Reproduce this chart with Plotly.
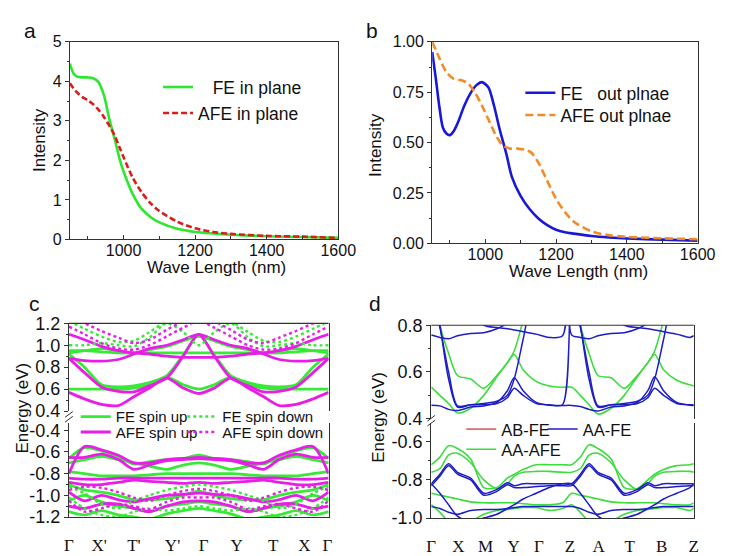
import plotly.graph_objects as go

W, H = 736, 556

# ---------------- panel a : in-plane absorption ----------------
WL_A = [850, 860, 870, 885, 900, 915, 930, 945, 960, 975, 990, 1000, 1025, 1050,
        1075, 1100, 1150, 1200, 1250, 1300, 1400, 1500, 1600]
FE_IN_PLANE = [4.45, 4.2, 4.12, 4.1, 4.1, 4.08, 3.98, 3.65, 3.05, 2.55, 2.0, 1.72, 1.16,
               0.78, 0.57, 0.43, 0.27, 0.19, 0.15, 0.12, 0.08, 0.06, 0.04]
AFE_IN_PLANE = [3.95, 3.82, 3.72, 3.6, 3.52, 3.42, 3.28, 3.1, 2.88, 2.63, 2.3, 2.08, 1.57,
                1.2, 0.92, 0.72, 0.45, 0.28, 0.19, 0.14, 0.09, 0.07, 0.04]

# ---------------- panel b : out-of-plane absorption ----------------
WL_B_FE = [850, 860, 870, 880, 890, 900, 910, 925, 940, 960, 975, 990, 1000, 1010, 1025,
           1040, 1060, 1075, 1100, 1125, 1150, 1175, 1200, 1225, 1250, 1300, 1350, 1400,
           1500, 1600]
FE_OUT_PLANE = [0.95, 0.82, 0.68, 0.575, 0.545, 0.537, 0.555, 0.61, 0.68, 0.75, 0.785, 0.80,
                0.79, 0.77, 0.68, 0.57, 0.44, 0.33, 0.234, 0.17, 0.123, 0.09, 0.067, 0.055,
                0.048, 0.036, 0.029, 0.024, 0.018, 0.013]
WL_B_AFE = [850, 870, 890, 910, 930, 950, 970, 990, 1010, 1030, 1050, 1070, 1090, 1110,
            1130, 1150, 1175, 1200, 1225, 1250, 1300, 1350, 1400, 1500, 1600]
AFE_OUT_PLANE = [1.0, 0.92, 0.85, 0.817, 0.81, 0.795, 0.75, 0.685, 0.61, 0.535, 0.485, 0.47,
                 0.47, 0.465, 0.45, 0.40, 0.31, 0.22, 0.155, 0.107, 0.059, 0.04, 0.032,
                 0.025, 0.02]

# ---------------- panel c : band structure FE / AFE ----------------
K_C = [0, 0.06, 0.125, 0.19, 0.25, 0.31, 0.376, 0.44, 0.5, 0.56, 0.624, 0.69, 0.75, 0.81,
       0.875, 0.94, 1.0]
C_TICK_POS = [0, 0.116, 0.25, 0.399, 0.519, 0.646, 0.787, 0.907, 0.996]
C_TICK_LABELS = ["Γ", "X'", "T'", "Y'", "Γ", "Y", "T", "X", "Γ"]

C_FE_UP_1 = [0.60, 0.60, 0.60, 0.60, 0.61, 0.64, 0.71, 0.64, 0.60, 0.64, 0.71, 0.64, 0.61, 0.60, 0.60, 0.60, 0.60]
C_FE_UP_2 = [0.92, 0.80, 0.64, 0.62, 0.63, 0.66, 0.72, 0.91, 1.09, 0.91, 0.72, 0.66, 0.63, 0.62, 0.64, 0.80, 0.92]
C_FE_UP_3 = [0.95, 0.95, 0.94, 0.93, 0.93, 0.93, 0.93, 0.93, 0.93, 0.93, 0.93, 0.93, 0.93, 0.93, 0.94, 0.95, 0.95]
C_FE_UP_4 = [0.93, 0.95, 0.97, 0.95, 0.93, 0.96, 0.99, 1.04, 1.08, 1.04, 0.99, 0.96, 0.93, 0.95, 0.97, 0.95, 0.93]
C_AFE_UP_1 = [0.57, 0.51, 0.46, 0.45, 0.53, 0.61, 0.70, 0.61, 0.56, 0.61, 0.70, 0.61, 0.53, 0.45, 0.46, 0.51, 0.57]
C_AFE_UP_2 = [0.88, 0.75, 0.62, 0.58, 0.575, 0.63, 0.70, 0.90, 1.10, 0.90, 0.70, 0.63, 0.575, 0.58, 0.62, 0.75, 0.88]
C_AFE_UP_3 = [1.10, 1.05, 0.99, 0.95, 0.93, 0.92, 0.90, 0.89, 0.89, 0.89, 0.90, 0.92, 0.93, 0.95, 0.99, 1.05, 1.10]
C_AFE_UP_4 = [0.88, 0.86, 0.855, 0.87, 0.92, 0.97, 1.00, 1.05, 1.10, 1.05, 1.00, 0.97, 0.92, 0.87, 0.855, 0.86, 0.88]
C_FE_DN_1 = [1.00, 1.00, 1.02, 1.00, 0.99, 1.07, 1.20, 1.12, 1.00, 1.12, 1.20, 1.07, 0.99, 1.00, 1.02, 1.00, 1.00]
C_FE_DN_2 = [1.22, 1.15, 1.08, 1.03, 1.04, 1.12, 1.22, 1.28, 1.30, 1.28, 1.22, 1.12, 1.04, 1.03, 1.08, 1.15, 1.22]
C_AFE_DN_1 = [1.17, 1.10, 1.02, 0.97, 0.96, 1.00, 1.08, 1.16, 1.22, 1.16, 1.08, 1.00, 0.96, 0.97, 1.02, 1.10, 1.17]
C_AFE_DN_2 = [1.25, 1.20, 1.13, 1.07, 1.02, 1.05, 1.14, 1.22, 1.28, 1.22, 1.14, 1.05, 1.02, 1.07, 1.13, 1.20, 1.25]

C_FE_UP_L1 = [-0.66, -0.56, -0.59, -0.64, -0.71, -0.69, -0.67, -0.66, -0.63, -0.66, -0.67, -0.69, -0.71, -0.64, -0.59, -0.56, -0.66]
C_FE_UP_L2 = [-0.70, -0.67, -0.64, -0.67, -0.70, -0.73, -0.76, -0.72, -0.70, -0.72, -0.76, -0.73, -0.70, -0.67, -0.64, -0.67, -0.70]
C_FE_UP_L3 = [-0.78, -0.80, -0.82, -0.82, -0.82, -0.81, -0.80, -0.80, -0.80, -0.80, -0.80, -0.81, -0.82, -0.82, -0.82, -0.80, -0.78]
C_FE_UP_L4 = [-0.90, -0.95, -0.97, -1.00, -1.04, -1.04, -1.03, -1.00, -0.96, -1.00, -1.03, -1.04, -1.04, -1.00, -0.97, -0.95, -0.90]
C_FE_UP_L5 = [-1.05, -1.00, -1.06, -1.10, -1.12, -1.15, -1.10, -1.08, -1.06, -1.08, -1.10, -1.15, -1.12, -1.10, -1.06, -1.00, -1.05]
C_FE_UP_L6 = [-1.15, -1.18, -1.14, -1.18, -1.20, -1.22, -1.17, -1.14, -1.12, -1.14, -1.17, -1.22, -1.20, -1.18, -1.14, -1.18, -1.15]
C_AFE_UP_L1 = [-0.80, -0.55, -0.58, -0.63, -0.70, -0.70, -0.67, -0.66, -0.65, -0.66, -0.67, -0.70, -0.70, -0.63, -0.58, -0.55, -0.80]
C_AFE_UP_L2 = [-0.65, -0.65, -0.62, -0.67, -0.76, -0.72, -0.68, -0.67, -0.66, -0.67, -0.68, -0.72, -0.76, -0.67, -0.62, -0.65, -0.65]
C_AFE_UP_L3 = [-0.84, -0.85, -0.85, -0.84, -0.84, -0.84, -0.84, -0.84, -0.84, -0.84, -0.84, -0.84, -0.84, -0.84, -0.85, -0.85, -0.84]
C_AFE_UP_L4 = [-0.88, -0.90, -0.90, -0.88, -0.86, -0.87, -0.88, -0.89, -0.88, -0.89, -0.88, -0.87, -0.86, -0.88, -0.90, -0.90, -0.88]
C_AFE_UP_L5 = [-0.97, -1.05, -1.00, -1.04, -1.06, -1.03, -1.00, -0.99, -0.98, -0.99, -1.00, -1.03, -1.06, -1.04, -1.00, -1.05, -0.97]
C_AFE_UP_L6 = [-1.10, -1.12, -1.08, -1.08, -1.12, -1.15, -1.10, -1.06, -1.05, -1.06, -1.10, -1.15, -1.12, -1.08, -1.08, -1.12, -1.10]
C_FE_DN_L1 = [-0.92, -0.98, -1.08, -1.12, -1.05, -1.00, -0.95, -0.92, -0.90, -0.92, -0.95, -1.00, -1.05, -1.12, -1.08, -0.98, -0.92]
C_FE_DN_L2 = [-1.02, -1.12, -1.18, -1.20, -1.15, -1.12, -1.14, -1.12, -1.10, -1.12, -1.14, -1.12, -1.15, -1.20, -1.18, -1.12, -1.02]
C_AFE_DN_L1 = [-0.95, -0.92, -0.93, -0.97, -1.02, -1.05, -1.00, -0.96, -0.94, -0.96, -1.00, -1.05, -1.02, -0.97, -0.93, -0.92, -0.95]
C_AFE_DN_L2 = [-1.05, -1.15, -1.12, -1.08, -1.10, -1.13, -1.06, -1.02, -1.02, -1.02, -1.06, -1.13, -1.10, -1.08, -1.12, -1.15, -1.05]

# ---------------- panel d : band structure AA / AB stacking ----------------
K_D = [0, 0.033, 0.066, 0.10, 0.15, 0.20, 0.25, 0.29, 0.316, 0.35, 0.40, 0.45, 0.50,
       0.535, 0.568, 0.601, 0.635, 0.685, 0.735, 0.785, 0.825, 0.851, 0.885, 0.935, 0.985, 1.0]
D_TICK_POS = [0, 0.103, 0.207, 0.314, 0.41, 0.528, 0.638, 0.756, 0.878, 1.0]
D_TICK_LABELS = ["Γ", "X", "M", "Y", "Γ", "Z", "A", "T", "B", "Z"]

D_AFE_1 = [0.535, 0.50, 0.465, 0.425, 0.445, 0.50, 0.58, 0.64, 0.675, 0.61, 0.56, 0.54, 0.535,
           0.535, 0.50, 0.46, 0.42, 0.445, 0.50, 0.58, 0.64, 0.675, 0.61, 0.565, 0.545, 0.54]
D_AFE_2 = [1.0, 0.80, 0.68, 0.585, 0.57, 0.53, 0.585, 0.64, 0.69, 0.82, 1.0, 1.1, 1.1,
           1.0, 0.80, 0.68, 0.585, 0.575, 0.53, 0.585, 0.64, 0.69, 0.82, 1.0, 1.1, 1.1]
D_AFE_L1 = [-0.72, -0.68, -0.62, -0.635, -0.69, -0.84, -0.84, -0.79, -0.77, -0.745, -0.72, -0.72, -0.72,
            -0.72, -0.68, -0.615, -0.635, -0.69, -0.84, -0.845, -0.80, -0.77, -0.745, -0.725, -0.72, -0.715]
D_AFE_L2 = [-0.76, -0.74, -0.67, -0.66, -0.71, -0.80, -0.845, -0.82, -0.78, -0.76, -0.755, -0.755, -0.76,
            -0.76, -0.74, -0.67, -0.66, -0.71, -0.80, -0.85, -0.82, -0.78, -0.76, -0.755, -0.755, -0.76]
D_AFE_L3 = [-0.87, -0.88, -0.89, -0.90, -0.915, -0.92, -0.92, -0.92, -0.92, -0.925, -0.93, -0.93, -0.92,
            -0.87, -0.88, -0.89, -0.90, -0.915, -0.92, -0.92, -0.92, -0.92, -0.925, -0.93, -0.93, -0.92]
D_AFE_L4 = [-0.93, -0.97, -1.02, -1.05, -1.02, -0.98, -0.96, -0.955, -0.95, -0.945, -0.945, -0.96, -0.95,
            -0.93, -0.97, -1.02, -1.05, -1.02, -0.98, -0.96, -0.955, -0.95, -0.945, -0.945, -0.96, -0.95]

D_FE_1 = [0.458, 0.455, 0.44, 0.435, 0.45, 0.455, 0.47, 0.52, 0.575, 0.52, 0.47, 0.458, 0.457,
          0.457, 0.452, 0.44, 0.433, 0.45, 0.455, 0.47, 0.52, 0.58, 0.52, 0.47, 0.458, 0.457]
D_FE_2 = [1.0, 0.80, 0.57, 0.45, 0.46, 0.465, 0.475, 0.50, 0.57, 0.74, 1.0, 1.1, 1.1,
          1.0, 0.80, 0.57, 0.45, 0.46, 0.465, 0.475, 0.50, 0.57, 0.74, 1.0, 1.1, 1.1]
D_FE_3 = [0.92, 0.79, 0.60, 0.455, 0.46, 0.46, 0.465, 0.49, 0.53, 0.50, 0.465, 0.46, 0.46,
          0.92, 0.79, 0.60, 0.455, 0.46, 0.46, 0.465, 0.49, 0.53, 0.50, 0.465, 0.46, 0.46]
D_FE_4 = [0.758, 0.748, 0.742, 0.755, 0.765, 0.768, 0.785, 0.81, 0.85, 0.95, 1.1, 1.1, 1.1,
          0.758, 0.748, 0.742, 0.755, 0.765, 0.768, 0.785, 0.81, 0.85, 0.95, 1.1, 1.1, 1.1]
D_FE_5 = [1.1, 1.1, 1.1, 0.95, 0.85, 0.80, 0.79, 0.785, 0.78, 0.772, 0.762, 0.748, 0.755,
          1.1, 1.1, 1.1, 0.95, 0.85, 0.80, 0.79, 0.785, 0.78, 0.772, 0.762, 0.748, 0.755]
D_FE_L1 = [-0.82, -0.77, -0.715, -0.76, -0.79, -0.87, -0.85, -0.815, -0.83, -0.82, -0.82, -0.82, -0.82,
           -0.82, -0.77, -0.715, -0.76, -0.79, -0.87, -0.85, -0.815, -0.83, -0.82, -0.82, -0.82, -0.82]
D_FE_L2 = [-0.83, -0.78, -0.725, -0.77, -0.80, -0.88, -0.86, -0.825, -0.84, -0.84, -0.835, -0.83, -0.83,
           -0.83, -0.78, -0.725, -0.77, -0.80, -0.88, -0.86, -0.825, -0.84, -0.84, -0.835, -0.83, -0.83]
D_FE_L3 = [-0.82, -0.87, -0.93, -0.99, -1.02, -1.0, -0.98, -0.95, -0.93, -0.90, -0.87, -0.84, -0.82,
           -0.82, -0.87, -0.93, -0.99, -1.02, -1.0, -0.98, -0.95, -0.93, -0.90, -0.87, -0.84, -0.82]
D_FE_L4 = [-0.94, -0.95, -0.97, -0.98, -0.96, -0.955, -0.955, -0.95, -0.945, -0.94, -0.94, -0.94, -0.94,
           -0.94, -0.95, -0.97, -0.98, -0.96, -0.955, -0.955, -0.95, -0.945, -0.94, -0.94, -0.94, -0.94]

# ---------------- styling ----------------
FONT = "Arial, 'Liberation Sans', sans-serif"
SERIF = "'Times New Roman', 'Liberation Serif', serif"
AX = "#333333"
TXT = "#111111"
GREEN_A = "#2ee62e"
RED_A = "#dd1c1c"
BLUE_B = "#1818d8"
ORANGE_B = "#f38a24"
GREEN_C = "#36ea36"
MAG_C = "#e81ee8"
GREEN_D = "#3ddc3d"
BLUE_D = "#1e1ec4"
RED_D = "#e06a6a"


def xd(a, b):
    return [a / W, b / W]


def yd(top, bottom):
    return [1 - bottom / H, 1 - top / H]


fig = go.Figure()


def line_trace(x, y, xa, ya, color, width, dash="solid", name=None, legend=None,
               shape="spline"):
    return go.Scatter(x=x, y=y, xaxis=xa, yaxis=ya, mode="lines", name=name,
                      line=dict(color=color, width=width, dash=dash, shape=shape,
                                smoothing=0.8),
                      showlegend=legend is not None, legend=legend or "legend",
                      hoverinfo="skip")


# panel a
fig.add_trace(line_trace(WL_A, FE_IN_PLANE, "x", "y", GREEN_A, 2.6,
                         name="\u00a0\u00a0\u00a0FE in plane", legend="legend"))
fig.add_trace(line_trace(WL_A, AFE_IN_PLANE, "x", "y", RED_A, 2.6, dash="6px,3px",
                         name="AFE in plane", legend="legend2"))
# panel b
fig.add_trace(line_trace(WL_B_FE, FE_OUT_PLANE, "x2", "y2", BLUE_B, 2.6,
                         name="FE\u00a0\u00a0\u00a0out plnae", legend="legend3"))
fig.add_trace(line_trace(WL_B_AFE, AFE_OUT_PLANE, "x2", "y2", ORANGE_B, 2.6, dash="8px,4px",
                         name="AFE out plnae", legend="legend4"))

# panel c
c_groups = [
    ([C_FE_UP_1, C_FE_UP_2, C_FE_UP_3, C_FE_UP_4],
     [C_FE_UP_L1, C_FE_UP_L2, C_FE_UP_L3, C_FE_UP_L4, C_FE_UP_L5, C_FE_UP_L6],
     GREEN_C, "solid", 2.8, "FE spin up", "legend5"),
    ([C_AFE_UP_1, C_AFE_UP_2, C_AFE_UP_3, C_AFE_UP_4],
     [C_AFE_UP_L1, C_AFE_UP_L2, C_AFE_UP_L3, C_AFE_UP_L4, C_AFE_UP_L5, C_AFE_UP_L6],
     MAG_C, "solid", 2.8, "AFE spin up", "legend7"),
    ([C_FE_DN_1, C_FE_DN_2], [C_FE_DN_L1, C_FE_DN_L2],
     GREEN_C, "dot", 2.4, "FE spin down", "legend6"),
    ([C_AFE_DN_1, C_AFE_DN_2], [C_AFE_DN_L1, C_AFE_DN_L2],
     MAG_C, "dot", 2.4, "AFE spin down", "legend8"),
]
for upper, lower, color, dash, width, name, leg in c_groups:
    for i, band in enumerate(upper):
        fig.add_trace(line_trace(K_C, band, "x3", "y3", color, width, dash=dash,
                                 name=name, legend=leg if i == 0 else None))
    for band in lower:
        fig.add_trace(line_trace(K_C, band, "x3", "y4", color, width, dash=dash))

# panel d
for band in [D_AFE_1, D_AFE_2]:
    fig.add_trace(line_trace(K_D, band, "x4", "y5", GREEN_D, 1.6))
for i, band in enumerate([D_AFE_L1, D_AFE_L2, D_AFE_L3, D_AFE_L4]):
    fig.add_trace(line_trace(K_D, band, "x4", "y6", GREEN_D, 1.6, name="AA-AFE",
                             legend="legend11" if i == 0 else None))
for band in [D_FE_1, D_FE_2, D_FE_3, D_FE_4, D_FE_5]:
    fig.add_trace(line_trace(K_D, band, "x4", "y5", BLUE_D, 1.5))
for i, band in enumerate([D_FE_L1, D_FE_L2, D_FE_L3, D_FE_L4]):
    fig.add_trace(line_trace(K_D, band, "x4", "y6", BLUE_D, 1.5, name="AA-FE",
                             legend="legend10" if i == 0 else None))
# AB-FE: legend entry only (its bands are hidden beneath the AA-FE ones)
fig.add_trace(go.Scatter(x=[None], y=[None], xaxis="x4", yaxis="y6", mode="lines",
                         name="AB-FE", line=dict(color=RED_D, width=1.6),
                         legend="legend9", showlegend=True, hoverinfo="skip"))

tickfont = dict(family=FONT, size=16, color=TXT)
tickfont_c = dict(family=FONT, size=18, color=TXT)
serif_font = dict(family=SERIF, size=17, color=TXT)


def base_axis(**kw):
    d = dict(showline=True, linecolor=AX, linewidth=1.2, showgrid=False, zeroline=False,
             tickcolor=AX, ticklen=4, tickwidth=1.2)
    d.update(kw)
    return d


layout = dict(
    width=W, height=H, margin=dict(l=0, r=0, t=0, b=0),
    paper_bgcolor="white", plot_bgcolor="rgba(0,0,0,0)",
    font=dict(family=FONT, color=TXT),
    xaxis=base_axis(domain=xd(67, 344), anchor="y", range=[850, 1600],
                    tickvals=[1000, 1200, 1400, 1600], ticks="inside", mirror=True,
                    minor=dict(tickvals=[900, 1100, 1300, 1500], ticks="inside", ticklen=3,
                               tickcolor=AX),
                    tickfont=tickfont, ticklabelstandoff=-4),
    yaxis=base_axis(domain=yd(33, 238), anchor="x", range=[0, 5],
                    tickvals=[0, 1, 2, 3, 4, 5], ticks="outside", mirror=True,
                    minor=dict(tickvals=[0.5, 1.5, 2.5, 3.5, 4.5], ticks="outside", ticklen=2,
                               tickcolor=AX),
                    tickfont=tickfont),
    xaxis2=base_axis(domain=xd(441, 715), anchor="y2", range=[850, 1600],
                     tickvals=[1000, 1200, 1400, 1600], ticks="inside", mirror=True,
                     minor=dict(tickvals=[900, 1100, 1300, 1500], ticks="inside", ticklen=3,
                                tickcolor=AX),
                     tickfont=tickfont, ticklabelstandoff=-4),
    yaxis2=base_axis(domain=yd(33, 242), anchor="x2", range=[0, 1],
                     tickvals=[0, 0.25, 0.5, 0.75, 1.0],
                     ticktext=["0.00", "0.25", "0.50", "0.75", "1.00"],
                     ticks="outside", mirror=True,
                     minor=dict(tickvals=[0.125, 0.375, 0.625, 0.875], ticks="outside",
                                ticklen=2, tickcolor=AX),
                     tickfont=tickfont),
    xaxis3=base_axis(domain=xd(66, 334), anchor="y4", range=[0, 1],
                     tickvals=C_TICK_POS, ticktext=C_TICK_LABELS, ticks="",
                     tickfont=serif_font, ticklabelstandoff=12),
    yaxis3=base_axis(domain=yd(325, 416), anchor="x3", range=[0.4, 1.2],
                     tickvals=[0.4, 0.6, 0.8, 1.0, 1.2],
                     ticktext=["0.4", "0.6", "0.8", "1.0", "1.2"],
                     ticks="outside", mirror=True,
                     minor=dict(tickvals=[0.5, 0.7, 0.9, 1.1], ticks="outside", ticklen=2,
                                tickcolor=AX),
                     tickfont=tickfont_c),
    yaxis4=base_axis(domain=yd(428, 526), anchor="x3", range=[-1.2, -0.329],
                     tickvals=[-1.2, -1.0, -0.8, -0.6, -0.4],
                     ticktext=["-1.2", "-1.0", "-0.8", "-0.6", "-0.4"],
                     ticks="outside", mirror=True,
                     minor=dict(tickvals=[-1.1, -0.9, -0.7, -0.5], ticks="outside", ticklen=2,
                                tickcolor=AX),
                     tickfont=tickfont_c),
    xaxis4=base_axis(domain=xd(440, 711), anchor="y6", range=[0, 1],
                     tickvals=D_TICK_POS, ticktext=D_TICK_LABELS, ticks="",
                     tickfont=serif_font, ticklabelstandoff=12),
    yaxis5=base_axis(domain=yd(327, 424), anchor="x4", range=[0.4, 0.8],
                     tickvals=[0.4, 0.6, 0.8], ticktext=["0.4", "0.6", "0.8"],
                     ticks="outside", mirror=True,
                     minor=dict(tickvals=[0.5, 0.7], ticks="outside", ticklen=2, tickcolor=AX),
                     tickfont=tickfont_c),
    yaxis6=base_axis(domain=yd(428, 527), anchor="x4", range=[-1.0, -0.499],
                     tickvals=[-1.0, -0.8, -0.6], ticktext=["-1.0", "-0.8", "-0.6"],
                     ticks="outside", mirror=True,
                     minor=dict(tickvals=[-0.9, -0.7], ticks="outside", ticklen=2,
                                tickcolor=AX),
                     tickfont=tickfont_c),
)


def leg(px, py, size):
    return dict(x=(px - 5) / W, y=1 - py / H, xanchor="left", yanchor="middle",
                bgcolor="rgba(0,0,0,0)", borderwidth=0,
                font=dict(family=FONT, size=size, color=TXT), tracegroupgap=0)


layout["legend"] = leg(163, 80, 17.5)
layout["legend2"] = leg(163, 107, 17.5)
layout["legend3"] = leg(537, 86, 17.5)
layout["legend4"] = leg(537, 109, 17.5)
layout["legend5"] = leg(78, 422, 15)
layout["legend6"] = leg(188, 422, 15)
layout["legend7"] = leg(78, 438, 15)
layout["legend8"] = leg(188, 438, 15)
layout["legend9"] = leg(476, 435, 16.5)
layout["legend10"] = leg(560, 435, 16.5)
layout["legend11"] = leg(476, 456, 16.5)

fig.update_layout(**layout)


def ann(text, px, py, size=17, angle=0, family=FONT):
    fig.add_annotation(text=text, x=px / W, y=1 - py / H, xref="paper", yref="paper",
                       showarrow=False, textangle=angle, xanchor="center",
                       yanchor="middle", font=dict(family=family, size=size, color=TXT))


ann("a", 26, 21, 21)
ann("b", 379, 21, 21)
ann("c", 30, 304, 21)
ann("d", 382, 304, 21)
ann("Wave Length (nm)", 218, 267)
ann("Wave Length (nm)", 592, 271)
ann("Intensity", 35, 135, angle=-90)
ann("Intensity", 383, 140, angle=-90)
ann("Energy (eV)", 18, 413, angle=-90)
ann("Energy (eV)", 386, 422, angle=-90)

# frame tops of the broken-axis panels and break marks
for xa, ya in [("x3", "y3"), ("x4", "y5")]:
    fig.add_shape(type="line", xref=f"{xa} domain", yref=f"{ya} domain",
                  x0=0, x1=1, y0=1, y1=1, line=dict(color=AX, width=1.2))
for bx, by in [(66, 422), (440, 426)]:
    for off in (-2.5, 2.5):
        fig.add_shape(type="line", xref="paper", yref="paper",
                      x0=(bx - 4) / W, x1=(bx + 4) / W,
                      y0=1 - (by + off + 3) / H, y1=1 - (by + off - 3) / H,
                      line=dict(color=AX, width=1))

fig.write_html("out.html", config={"displayModeBar": False},
               post_script="document.body.style.margin='0';document.body.style.overflow='hidden';")
